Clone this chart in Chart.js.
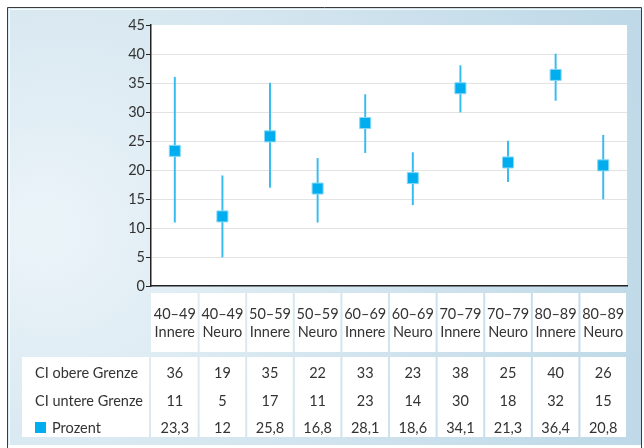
<!DOCTYPE html>
<html>
<head>
<meta charset="utf-8">
<script src="https://cdn.jsdelivr.net/npm/chart.js@4/dist/chart.umd.min.js"></script>
<style>
  html, body { margin: 0; padding: 0; background: #fff; }
  canvas { display: block; }
</style>
</head>
<body>
<canvas id="chart" width="644" height="448"></canvas>
<script>
// Age group / department categories (two-line axis labels)
const categories = [
  ['40–49', 'Innere'], ['40–49', 'Neuro'],
  ['50–59', 'Innere'], ['50–59', 'Neuro'],
  ['60–69', 'Innere'], ['60–69', 'Neuro'],
  ['70–79', 'Innere'], ['70–79', 'Neuro'],
  ['80–89', 'Innere'], ['80–89', 'Neuro']
];
const ciUpper = [36, 19, 35, 22, 33, 23, 38, 25, 40, 26];
const ciLower = [11, 5, 17, 11, 23, 14, 30, 18, 32, 15];
const prozent = [23.3, 12, 25.8, 16.8, 28.1, 18.6, 34.1, 21.3, 36.4, 20.8];
const rowLabels = ['CI obere Grenze', 'CI untere Grenze', 'Prozent'];
const yMin = 0, yMax = 45, yStep = 5;

const FONT = 'Lato, "Open Sans", sans-serif';
const TEXT = '#333333';
const MARK = '#00aeef';

const fmt = v => String(v).replace('.', ',');

// Frame, white panels behind plot, axis labels and table
const framePlugin = {
  id: 'frame',
  beforeDraw(chart) {
    const { ctx, chartArea: a } = chart;
    const W = chart.width, H = chart.height;
    ctx.save();
    ctx.fillStyle = '#ffffff';
    ctx.fillRect(0, 0, W, H);

    // light blue frame
    const g = ctx.createRadialGradient(40, 230, 20, 120, 230, 620);
    g.addColorStop(0, '#eaf3f8');
    g.addColorStop(0.45, '#d3e5ef');
    g.addColorStop(1, '#bad6e6');
    ctx.fillStyle = g;
    ctx.fillRect(8, 8, 634, 437);

    // inner highlight
    ctx.strokeStyle = 'rgba(255,255,255,0.8)';
    ctx.lineWidth = 1;
    ctx.beginPath();
    ctx.moveTo(9.5, 448); ctx.lineTo(9.5, 9.5); ctx.lineTo(641, 9.5);
    ctx.stroke();

    // outer border
    ctx.strokeStyle = '#3a3a3a';
    ctx.beginPath();
    ctx.moveTo(7.5, 448); ctx.lineTo(7.5, 7.5); ctx.lineTo(641.5, 7.5); ctx.lineTo(641.5, 448);
    ctx.stroke();

    // plot panel
    ctx.fillStyle = '#ffffff';
    ctx.fillRect(a.left, a.top, a.right - a.left, a.bottom - a.top);

    // category label boxes and table cells
    const colW = (a.right - a.left) / categories.length;
    for (let i = 0; i < categories.length; i++) {
      const x0 = a.left + i * colW + (i ? 1 : 0);
      const x1 = a.left + (i + 1) * colW - 1;
      ctx.fillRect(x0, 293, x1 - x0, 59);
      ctx.fillRect(x0, 357, x1 - x0, 80);
    }
    ctx.fillRect(22, 357, 127, 80);
    ctx.restore();
  },
  afterDraw(chart) {
    const { ctx, scales: { x } } = chart;
    const rows = [ciUpper, ciLower, prozent.map(fmt)];
    const rowY = [373, 401, 428];
    ctx.save();
    ctx.font = '14.5px ' + FONT;
    ctx.fillStyle = TEXT;
    ctx.textBaseline = 'middle';

    ctx.textAlign = 'left';
    ctx.fillText(rowLabels[0], 35, rowY[0]);
    ctx.fillText(rowLabels[1], 35, rowY[1]);
    ctx.fillText(rowLabels[2], 52, rowY[2]);
    ctx.fillStyle = MARK;
    ctx.fillRect(35, 422, 11, 11);

    ctx.fillStyle = TEXT;
    ctx.textAlign = 'center';
    rows.forEach((row, r) => {
      row.forEach((v, i) => {
        ctx.fillText(String(v), x.getPixelForTick(i), rowY[r]);
      });
    });
    ctx.restore();
  }
};

new Chart(document.getElementById('chart'), {
  data: {
    labels: categories,
    datasets: [
      {
        type: 'line',
        label: 'Prozent',
        data: prozent,
        showLine: false,
        pointStyle: 'rect',
        pointRadius: 7.8,
        pointHoverRadius: 7.8,
        pointBackgroundColor: MARK,
        pointBorderColor: '#8ad8f5',
        pointBorderWidth: 1,
        order: 0
      },
      {
        type: 'bar',
        label: 'CI',
        data: ciLower.map((lo, i) => [lo, ciUpper[i]]),
        backgroundColor: '#38bbee',
        borderWidth: 0,
        barThickness: 1.3,
        order: 1
      }
    ]
  },
  options: {
    responsive: false,
    devicePixelRatio: 1,
    animation: false,
    events: [],
    layout: { padding: { top: 25, right: 15, bottom: 0, left: 0 } },
    plugins: { legend: { display: false }, tooltip: { enabled: false } },
    scales: {
      x: {
        type: 'category',
        offset: true,
        afterFit(scale) { scale.height = 162; },
        grid: { display: false, drawTicks: false },
        border: { display: true, color: '#222222', width: 1.5 },
        ticks: {
          autoSkip: false,
          maxRotation: 0,
          minRotation: 0,
          padding: 19,
          color: TEXT,
          font: { family: FONT, size: 14.5, lineHeight: '18px' }
        }
      },
      y: {
        min: yMin,
        max: yMax,
        afterFit(scale) { scale.width = 151; },
        grid: {
          color: ctx => (ctx.tick && (ctx.tick.value === yMax || ctx.tick.value === yMin)) ? 'rgba(0,0,0,0)' : '#e3e3e3',
          lineWidth: 1,
          drawTicks: true,
          tickLength: 5,
          tickColor: '#222222',
          tickWidth: 1
        },
        border: { display: true, color: '#222222', width: 1.5 },
        ticks: {
          stepSize: yStep,
          padding: 1,
          color: TEXT,
          font: { family: FONT, size: 14.5 }
        }
      }
    }
  },
  plugins: [framePlugin]
});
</script>
</body>
</html>
